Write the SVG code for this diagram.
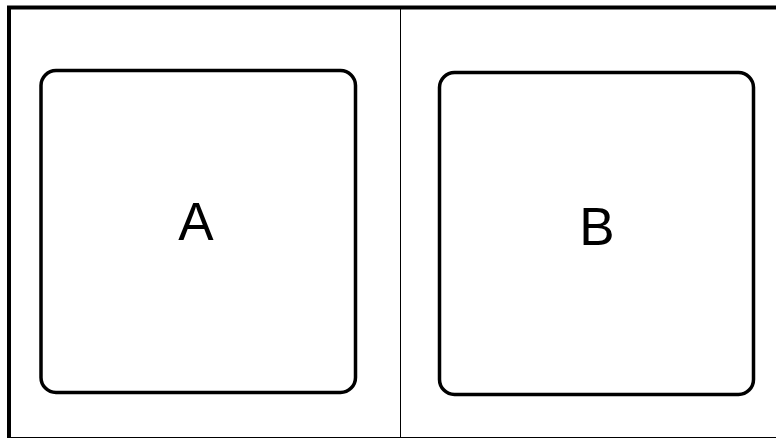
<svg xmlns="http://www.w3.org/2000/svg" width="776" height="438" viewBox="0 0 776 438">
<style>
.frame{fill:none;stroke:#000;stroke-width:4}
.div{stroke:#000;stroke-width:1}
.box{fill:#fff;stroke:#000;stroke-width:3.5}
.lbl{font-family:"Liberation Sans",Arial,sans-serif;font-size:53px;fill:#000;text-anchor:middle}
</style>
<rect width="776" height="438" fill="#fff"/>
<rect class="frame" x="9" y="7.5" width="780" height="431.5"/>
<g id="connectors">
<line class="div" x1="400.5" y1="7" x2="400.5" y2="438"/>
</g>
<g id="A">
<rect class="box" x="41" y="70.5" width="314.5" height="322" rx="15"/>
<text class="lbl" x="196" y="240">A</text>
</g>
<g id="B">
<rect class="box" x="439.5" y="72.5" width="314" height="322" rx="15"/>
<text class="lbl" x="597" y="245">B</text>
</g>
</svg>
